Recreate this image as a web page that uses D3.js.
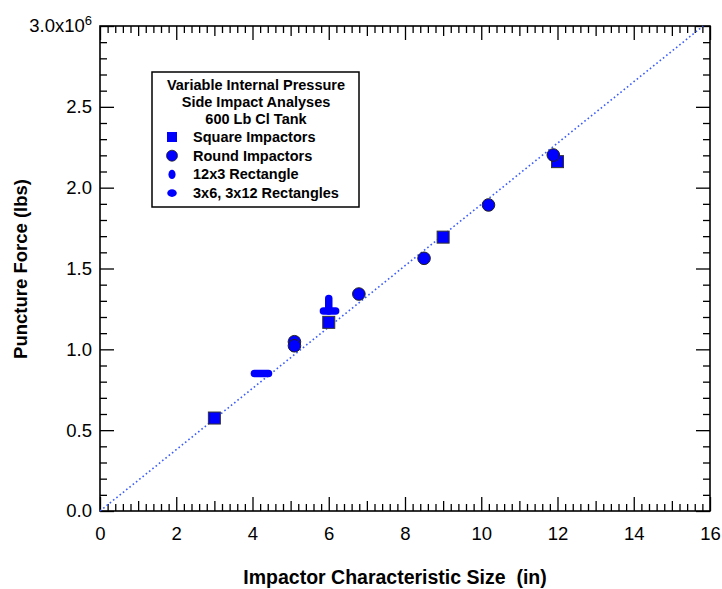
<!DOCTYPE html>
<html><head><meta charset="utf-8">
<script src="https://cdn.jsdelivr.net/npm/d3@7"></script>
<style>
body{margin:0;background:#fff;}
text{font-family:"Liberation Sans",Arial,sans-serif;}
</style></head>
<body><svg id="c" width="722" height="589"></svg>
<script>
// ---- data ----
const squareX = [3, 6, 9, 12];
const squareY = [0.575e6, 1.167e6, 1.694e6, 2.161e6];
const roundX = [5.10, 5.10, 6.79, 8.50, 10.19, 11.89];
const roundY = [1.047e6, 1.022e6, 1.342e6, 1.563e6, 1.893e6, 2.202e6];
// rectangle impactors drawn as capsules: [x0, x1, y0, y1]
const rect12x3 = [[4.05, 4.42, 0.85e6, 0.85e6]];
const rect3x6_3x12 = [[5.86, 6.18, 1.237e6, 1.237e6], [6.0, 6.0, 1.237e6, 1.314e6]];
const fitLine = [[0, 0], [15.82, 3.0e6]];
const xTicks = [0, 2, 4, 6, 8, 10, 12, 14, 16];
const yTicks = [0, 0.5e6, 1.0e6, 1.5e6, 2.0e6, 2.5e6, 3.0e6];
const legendTitle = ["Variable Internal Pressure", "Side Impact Analyses", "600 Lb Cl Tank"];
const legendItems = ["Square Impactors", "Round Impactors", "12x3 Rectangle", "3x6, 3x12 Rectangles"];

// ---- layout ----
const L = 100, R = 710, T = 26, B = 511;
const svg = d3.select("#c");
const x = d3.scaleLinear().domain([0, 16]).range([L, R]);
const y = d3.scaleLinear().domain([0, 3.0e6]).range([B, T]);
const BLUE = "#0000ff";

function axisGroup(gen, tx, ty) {
  const g = svg.append("g").attr("transform", `translate(${tx},${ty})`).call(gen);
  g.select(".domain").remove();
  g.selectAll("line").attr("stroke", "#000").attr("stroke-width", 1.3);
  return g;
}
const minorX = d3.range(0, 16.001, 0.2).filter(v => Math.abs(v - Math.round(v)) > 1e-6);
const midX = d3.range(1, 16, 2);
const minorY = d3.range(0, 3.0001e6, 0.1e6).filter(v => Math.abs(v / 0.5e6 - Math.round(v / 0.5e6)) > 1e-6);

// bottom
axisGroup(d3.axisBottom(x).tickValues(minorX).tickSize(-7).tickFormat(""), 0, B);
axisGroup(d3.axisBottom(x).tickValues(midX).tickSize(-10).tickFormat(""), 0, B);
const xb = axisGroup(d3.axisBottom(x).tickValues(xTicks).tickSize(-14).tickPadding(16).tickFormat(d3.format("d")), 0, B);
xb.selectAll("text").attr("font-size", 18.5).attr("fill", "#000").style("font-family", "Liberation Sans, Arial, sans-serif");
// top
axisGroup(d3.axisTop(x).tickValues(minorX).tickSize(-7).tickFormat(""), 0, T);
axisGroup(d3.axisTop(x).tickValues(midX).tickSize(-10).tickFormat(""), 0, T);
axisGroup(d3.axisTop(x).tickValues(xTicks).tickSize(-14).tickFormat(""), 0, T);
// left
axisGroup(d3.axisLeft(y).tickValues(minorY).tickSize(-7).tickFormat(""), L, 0);
const yl = axisGroup(d3.axisLeft(y).tickValues(yTicks).tickSize(-14).tickPadding(8)
  .tickFormat(d => (d / 1e6).toFixed(1)), L, 0);
yl.selectAll("text").attr("font-size", 18.5).attr("fill", "#000").style("font-family", "Liberation Sans, Arial, sans-serif");
yl.selectAll(".tick").filter(d => d === 3.0e6).select("text").each(function () {
  const t = d3.select(this).text("");
  t.append("tspan").text("3.0x10");
  t.append("tspan").attr("font-size", 13).attr("dy", "-0.55em").text("6");
});
// right
axisGroup(d3.axisRight(y).tickValues(minorY).tickSize(-7).tickFormat(""), R, 0);
axisGroup(d3.axisRight(y).tickValues(yTicks).tickSize(-14).tickFormat(""), R, 0);

// frame
svg.append("rect").attr("x", L).attr("y", T).attr("width", R - L).attr("height", B - T)
  .attr("fill", "none").attr("stroke", "#000").attr("stroke-width", 1.6);

// fit line
svg.append("line").attr("x1", x(fitLine[0][0])).attr("y1", y(fitLine[0][1]))
  .attr("x2", x(fitLine[1][0])).attr("y2", y(fitLine[1][1]))
  .attr("stroke", "#3a5cff").attr("stroke-width", 1.6).attr("stroke-dasharray", "1.6,2.6");

// capsules
function capsules(data) {
  svg.append("g").selectAll("line").data(data).join("line")
    .attr("x1", d => x(d[0])).attr("x2", d => x(d[1]))
    .attr("y1", d => y(d[2])).attr("y2", d => y(d[3]))
    .attr("stroke", BLUE).attr("stroke-width", 7.5).attr("stroke-linecap", "round");
}
capsules(rect12x3);
capsules(rect3x6_3x12);

// squares
svg.append("g").selectAll("rect").data(squareX.map((v, i) => [v, squareY[i]])).join("rect")
  .attr("x", d => x(d[0]) - 6).attr("y", d => y(d[1]) - 6).attr("width", 12).attr("height", 12)
  .attr("fill", BLUE).attr("stroke", "#333").attr("stroke-width", 1);
// circles
svg.append("g").selectAll("circle").data(roundX.map((v, i) => [v, roundY[i]])).join("circle")
  .attr("cx", d => x(d[0])).attr("cy", d => y(d[1])).attr("r", 6.3)
  .attr("fill", BLUE).attr("stroke", "#222").attr("stroke-width", 1);

// axis titles
svg.append("text").attr("x", 395).attr("y", 584).attr("text-anchor", "middle")
  .attr("font-size", 19.5).attr("font-weight", "bold").style("white-space", "pre")
  .text("Impactor Characteristic Size  (in)");
svg.append("text").attr("transform", "translate(27,269) rotate(-90)").attr("text-anchor", "middle")
  .attr("font-size", 18.5).attr("font-weight", "bold").text("Puncture Force (lbs)");

// legend
const lg = svg.append("g");
lg.append("rect").attr("x", 152).attr("y", 72).attr("width", 207).attr("height", 135)
  .attr("fill", "#fff").attr("stroke", "#000").attr("stroke-width", 1.5);
lg.selectAll("text.t").data(legendTitle).join("text").attr("class", "t")
  .attr("x", 256).attr("y", (d, i) => 90 + i * 17).attr("text-anchor", "middle")
  .attr("font-size", 14.5).attr("font-weight", "bold").text(d => d);
lg.selectAll("text.i").data(legendItems).join("text").attr("class", "i")
  .attr("x", 193).attr("y", (d, i) => 142 + i * 18.7)
  .attr("font-size", 14.5).attr("font-weight", "bold").text(d => d);
const mx = 172, my = i => 137 + i * 18.7;
lg.append("rect").attr("x", mx - 5).attr("y", my(0) - 5).attr("width", 10).attr("height", 10).attr("fill", BLUE);
lg.append("circle").attr("cx", mx).attr("cy", my(1)).attr("r", 5.5).attr("fill", BLUE).attr("stroke", "#222").attr("stroke-width", 0.8);
lg.append("ellipse").attr("cx", mx).attr("cy", my(2)).attr("rx", 3.6).attr("ry", 4.6).attr("fill", BLUE);
lg.append("ellipse").attr("cx", mx).attr("cy", my(3)).attr("rx", 4.8).attr("ry", 3.8).attr("fill", BLUE);
</script></body></html>
